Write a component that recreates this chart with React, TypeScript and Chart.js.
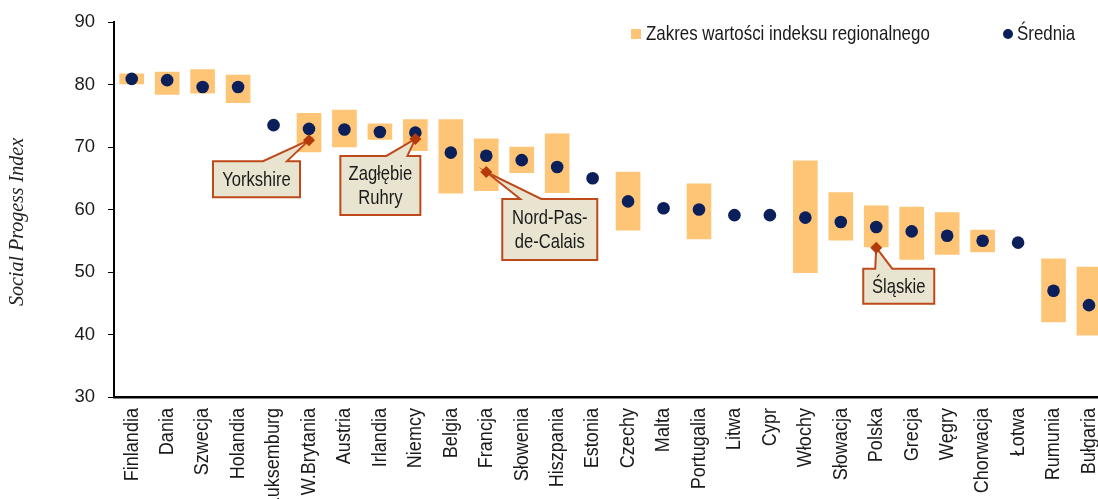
import { useEffect, useRef } from "react";
import { Chart, registerables } from "chart.js";

Chart.register(...registerables);

const countries = [
  "Finlandia", "Dania", "Szwecja", "Holandia", "Luksemburg", "W.Brytania", "Austria",
  "Irlandia", "Niemcy", "Belgia", "Francja", "Słowenia", "Hiszpania", "Estonia",
  "Czechy", "Malta", "Portugalia", "Litwa", "Cypr", "Włochy", "Słowacja", "Polska",
  "Grecja", "Węgry", "Chorwacja", "Łotwa", "Rumunia", "Bułgaria",
];
const meanValues = [
  80.9, 80.7, 79.6, 79.6, 73.5, 72.9, 72.8, 72.4, 72.3, 69.1, 68.6, 67.9, 66.8, 65.0,
  61.3, 60.2, 60.0, 59.1, 59.1, 58.7, 58.0, 57.2, 56.5, 55.8, 55.0, 54.7, 47.0, 44.7,
];
const rangeMin = [
  80.1, 78.4, 78.6, 77.1, null, 69.2, 70.0, 71.2, 69.4, 62.6, 63.0, 65.9, 62.7, null,
  56.7, null, 55.3, null, null, 49.9, 55.1, 54.0, 52.0, 52.8, 53.2, null, 42.0, 39.9,
];
const rangeMax = [
  81.7, 82.0, 82.4, 81.5, null, 75.4, 75.9, 73.7, 74.4, 74.4, 71.3, 70.0, 72.1, null,
  66.0, null, 64.1, null, null, 67.8, 62.7, 60.6, 60.4, 59.5, 56.7, null, 52.1, 50.8,
];
const regionNames = ["Yorkshire", "Zagłębie\nRuhry", "Nord-Pas-\nde-Calais", "Śląskie"];
const regionCountries = ["W.Brytania", "Niemcy", "Francja", "Polska"];
const regionValues = [71.1, 71.3, 66.0, 53.9];
const yMin = 30;
const yMax = 90;
const yStep = 10;

const legendLabels = ["Zakres wartości indeksu regionalnego", "Średnia"];
const yTitle = "Social Progess Index";

// callout box layout relative to the diamond (pixels)
const calloutLayout = [
  { dx: -96, dy: 21, w: 87, h: 36, b1: 50, b2: 74 },
  { dx: -75, dy: 17, w: 80, h: 59, b1: 46, b2: 67 },
  { dx: 16, dy: 27, w: 95, h: 61, b1: 18, b2: 39 },
  { dx: -13, dy: 21, w: 71, h: 35, b1: 12, b2: 29 },
];

const ORANGE = "#FFC576";
const NAVY = "#0B1F5B";
const RUST = "#B53A0B";
const BOX_FILL = "#E8E4D0";
const BOX_BORDER = "#BE4A1C";
const TEXT = "#1a1a1a";
const SANS = "'Liberation Sans', Arial, sans-serif";
const NARROW_SCALE = 0.805;
const XLABEL_SCALE = 0.86;

const regionData = countries.map((c) => {
  const k = regionCountries.indexOf(c);
  return k >= 0 ? regionValues[k] : null;
});

// draw horizontally condensed text (emulates a narrow face)
function narrowText(
  ctx: any, text: string, x: number, y: number, size: number, align: string,
  scale = NARROW_SCALE, rotate = 0
) {
  ctx.save();
  ctx.font = `${size}px ${SANS}`;
  ctx.textBaseline = "middle";
  ctx.textAlign = align;
  ctx.translate(x, y);
  if (rotate) ctx.rotate(rotate);
  ctx.scale(scale, 1);
  ctx.fillText(text, 0, 0);
  ctx.restore();
}

const calloutPlugin = {
  id: "callouts",
  afterDatasetDraw(chart: any, args: any) {
    if (args.index !== 0) return;
    const ctx = chart.ctx;
    const xs = chart.scales.x;
    const ys = chart.scales.y;
    regionCountries.forEach((c, i) => {
      const px = xs.getPixelForValue(countries.indexOf(c));
      const py = ys.getPixelForValue(regionValues[i]);
      const L = calloutLayout[i];
      const left = px + L.dx;
      const top = py + L.dy;
      ctx.save();
      ctx.beginPath();
      ctx.moveTo(left, top);
      ctx.lineTo(left + L.b1, top);
      ctx.lineTo(px, py);
      ctx.lineTo(left + L.b2, top);
      ctx.lineTo(left + L.w, top);
      ctx.lineTo(left + L.w, top + L.h);
      ctx.lineTo(left, top + L.h);
      ctx.closePath();
      ctx.fillStyle = BOX_FILL;
      ctx.fill();
      ctx.lineWidth = 2;
      ctx.lineJoin = "miter";
      ctx.strokeStyle = BOX_BORDER;
      ctx.stroke();
      ctx.fillStyle = TEXT;
      const lines = regionNames[i].split("\n");
      const lh = 24;
      const cy = top + L.h / 2 - ((lines.length - 1) * lh) / 2;
      lines.forEach((ln, j) =>
        narrowText(ctx, ln, left + L.w / 2, cy + j * lh + 1, 21, "center", 0.79)
      );
      ctx.restore();
    });
  },
};

const decorPlugin = {
  id: "decor",
  afterDraw(chart: any) {
    const ctx = chart.ctx;
    const xs = chart.scales.x;

    // x category labels (rotated, condensed)
    ctx.save();
    ctx.fillStyle = TEXT;
    countries.forEach((c, i) => {
      const px = xs.getPixelForValue(i);
      narrowText(ctx, c, px, xs.top + 11, 21, "right", XLABEL_SCALE, -Math.PI / 2);
    });
    ctx.restore();

    // y title
    ctx.save();
    ctx.translate(18, 222);
    ctx.rotate(-Math.PI / 2);
    ctx.font = "italic 20px 'Liberation Serif', serif";
    ctx.fillStyle = "#222";
    ctx.textAlign = "center";
    ctx.textBaseline = "middle";
    ctx.fillText(yTitle, 0, 0);
    ctx.restore();

    // legend
    ctx.save();
    ctx.fillStyle = ORANGE;
    ctx.fillRect(631, 29, 10, 10);
    ctx.fillStyle = TEXT;
    narrowText(ctx, legendLabels[0], 646, 34, 21, "left");
    ctx.beginPath();
    ctx.arc(1008, 34, 5, 0, Math.PI * 2);
    ctx.fillStyle = NAVY;
    ctx.fill();
    ctx.fillStyle = TEXT;
    narrowText(ctx, legendLabels[1], 1017, 34, 21, "left");
    ctx.restore();
  },
};

export default function App() {
  const ref = useRef<HTMLCanvasElement | null>(null);
  useEffect(() => {
    document.body.style.margin = "0";
    if (!ref.current) return;
    const chart = new Chart(ref.current, {
      type: "bar",
      data: {
        labels: countries,
        datasets: [
          {
            type: "bar",
            label: legendLabels[0],
            data: countries.map((_, i) =>
              rangeMin[i] == null ? null : [rangeMin[i] as number, rangeMax[i] as number]
            ) as any,
            backgroundColor: ORANGE,
            borderWidth: 0,
            barThickness: 24,
            order: 3,
          },
          {
            type: "line",
            label: legendLabels[1],
            data: meanValues,
            showLine: false,
            pointRadius: 6.3,
            pointBorderWidth: 0,
            pointBackgroundColor: NAVY,
            pointBorderColor: NAVY,
            order: 2,
          },
          {
            type: "line",
            label: "regions",
            data: regionData,
            showLine: false,
            pointStyle: "rectRot",
            pointRadius: 6,
            pointBorderWidth: 0,
            pointBackgroundColor: RUST,
            pointBorderColor: RUST,
            order: 1,
          },
        ],
      },
      options: {
        responsive: false,
        animation: false,
        layout: { padding: { top: 22, left: 0, right: 0, bottom: 0 } },
        plugins: {
          legend: { display: false },
          tooltip: { enabled: false },
        },
        scales: {
          x: {
            type: "category",
            offset: true,
            grid: { display: false, drawTicks: false },
            border: { display: true, color: "#000", width: 2.5 },
            ticks: { display: false, autoSkip: false },
            afterFit: (s: any) => {
              s.height = 102;
              s.paddingLeft = 0;
              s.paddingRight = 0;
            },
          },
          y: {
            min: yMin,
            max: yMax,
            ticks: {
              stepSize: yStep,
              padding: 13,
              color: TEXT,
              font: { family: SANS, size: 18.5 },
            },
            grid: { drawOnChartArea: false, color: "#000", tickLength: 6, lineWidth: 1 },
            border: { display: true, color: "#000", width: 2 },
            afterFit: (s: any) => {
              s.width = 114;
              s.paddingTop = 0;
              s.paddingBottom = 0;
            },
          },
        },
      },
      plugins: [calloutPlugin, decorPlugin],
    });
    return () => chart.destroy();
  }, []);

  return (
    <div style={{ width: 1098, height: 499, overflow: "hidden", position: "relative" }}>
      <canvas ref={ref} width={1113} height={499} style={{ display: "block", width: 1113, height: 499 }} />
    </div>
  );
}
